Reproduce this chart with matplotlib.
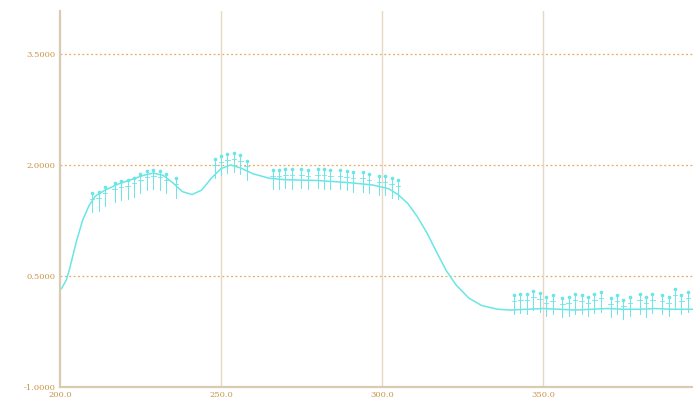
import matplotlib
matplotlib.use("Agg")
import matplotlib.pyplot as plt

# main trace
curve_x = [200.5, 202, 203, 205, 207, 209, 211, 214, 218, 222, 226, 229, 232, 235, 238,
           241, 244, 247, 250, 253, 256, 260, 265, 270, 280, 290, 297, 302, 305, 308,
           311, 314, 317, 320, 323, 327, 331, 336, 340, 345, 350, 355, 360, 365, 370,
           375, 380, 385, 390, 396.6]
curve_y = [0.33, 0.45, 0.60, 0.95, 1.25, 1.45, 1.58, 1.66, 1.74, 1.80, 1.86, 1.89, 1.86, 1.76, 1.64,
           1.60, 1.66, 1.82, 1.95, 2.00, 1.96, 1.88, 1.82, 1.80, 1.79, 1.76, 1.73, 1.68, 1.60, 1.48,
           1.30, 1.08, 0.82, 0.57, 0.38, 0.20, 0.10, 0.05, 0.04, 0.05, 0.06, 0.05, 0.04, 0.05, 0.06,
           0.05, 0.05, 0.06, 0.05, 0.05]

# peak label clusters (x position, top of the label)
peak_x = [210, 212, 214, 217, 219, 221, 223, 225, 227, 229, 231, 233, 236,
          248, 250, 252, 254, 256, 258,
          266, 268, 270, 272, 275, 277, 280, 282, 284, 287, 289, 291, 294, 296, 299, 301, 303, 305,
          341, 343, 345, 347, 349, 351, 353, 356, 358, 360, 362, 364, 366, 368, 371, 373, 375,
          377, 380, 382, 384, 387, 389, 391, 393, 395]
peak_top = [1.62, 1.64, 1.70, 1.76, 1.78, 1.80, 1.83, 1.88, 1.92, 1.93, 1.92, 1.88, 1.82,
            2.08, 2.12, 2.15, 2.16, 2.14, 2.06,
            1.93, 1.93, 1.95, 1.94, 1.95, 1.93, 1.95, 1.94, 1.93, 1.93, 1.92, 1.90, 1.90, 1.88,
            1.85, 1.85, 1.82, 1.80,
            0.24, 0.26, 0.25, 0.30, 0.27, 0.22, 0.24, 0.20, 0.22, 0.25, 0.24, 0.22, 0.26, 0.28,
            0.20, 0.24, 0.18, 0.22, 0.25, 0.21, 0.26, 0.24, 0.22, 0.32, 0.24, 0.28]

y_ticks = [-1.0, 0.5, 2.0, 3.5]
x_ticks = [200, 250, 300, 350]

cyan = "#6ae6e6"
label_col = "#c89448"

fig = plt.figure(figsize=(6.93, 4.01), dpi=100)
ax = fig.add_axes([60 / 693, 14 / 401, 633 / 693, 376 / 401])

ax.plot(curve_x, curve_y, color=cyan, lw=1.1)
for px, pt in zip(peak_x, peak_top):
    ax.plot([px, px], [pt - 0.26, pt], color=cyan, lw=0.7)
    ax.plot([px - 0.7, px + 0.7], [pt - 0.08, pt - 0.08], color=cyan, lw=0.6)
    ax.plot([px], [pt], marker="o", ms=1.6, color=cyan, mec=cyan)

ax.set_xlim(200, 396.6)
ax.set_ylim(-1.0, 4.08)
ax.set_xticks(x_ticks)
ax.set_xticklabels([f"{v:.1f}" for v in x_ticks])
ax.set_yticks(y_ticks)
ax.set_yticklabels([f"{v:.4f}" for v in y_ticks])
ax.tick_params(length=0, labelsize=6, labelcolor=label_col, pad=3)
for lab in ax.get_xticklabels() + ax.get_yticklabels():
    lab.set_family("DejaVu Serif")

ax.grid(False)
for v in y_ticks[1:]:
    ax.axhline(v, color="#e8aa60", lw=0.9, ls=(0, (1.5, 2)), zorder=0)
for v in x_ticks[1:]:
    ax.axvline(v, color="#e6d8c4", lw=1.0, zorder=0)

for side in ("top", "right"):
    ax.spines[side].set_visible(False)
for side in ("left", "bottom"):
    ax.spines[side].set_color("#d8cbb2")
    ax.spines[side].set_linewidth(1.6)

fig.savefig("out.png", dpi=100)
